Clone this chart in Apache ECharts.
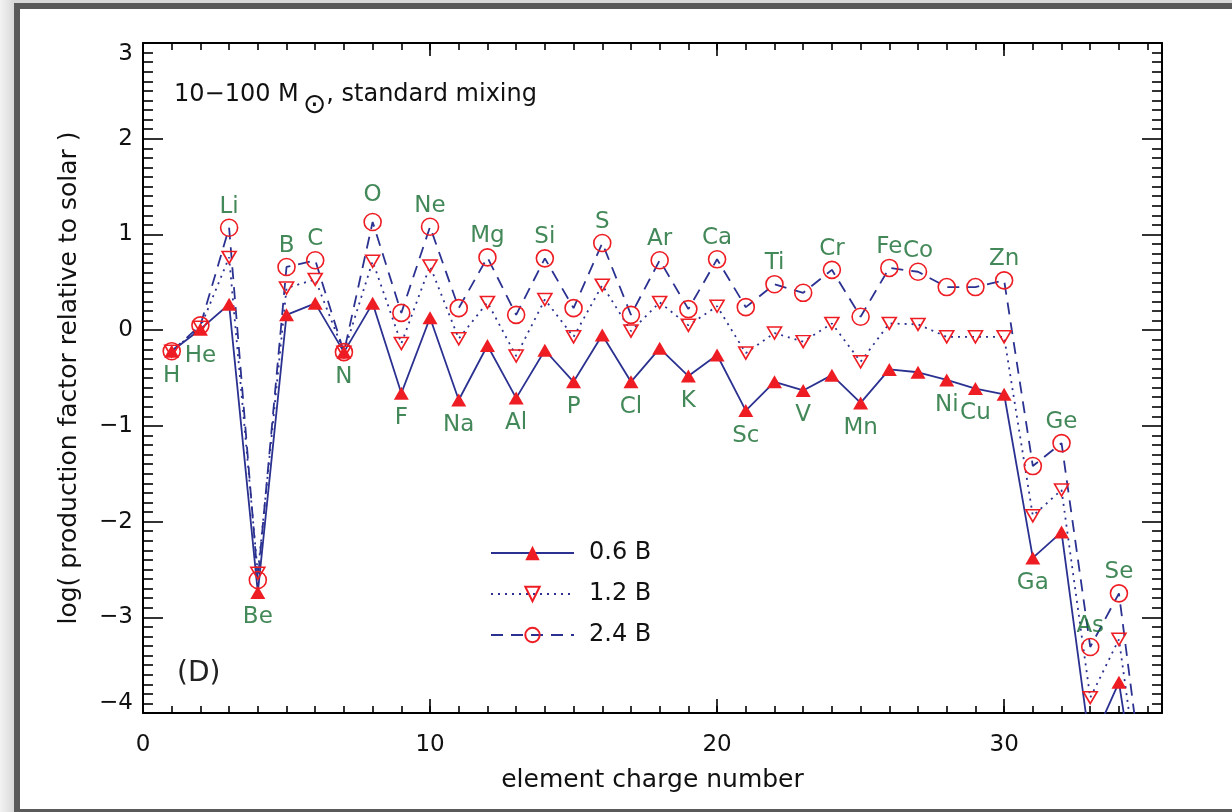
<!DOCTYPE html>
<html><head><meta charset="utf-8">
<script src="https://cdn.jsdelivr.net/npm/echarts@6/dist/echarts.min.js"></script>
<style>
html,body{margin:0;padding:0;width:1232px;height:812px;overflow:hidden;background:linear-gradient(90deg,#f3f3f3 0px,#d9d9d9 14px,#d9d9d9 100%);}
#frame{position:absolute;left:14px;top:3px;width:1400px;height:800px;border:6px solid #5a5a5a;background:#fff;}
#chart{position:absolute;left:0;top:0;width:1232px;height:812px;}
</style></head><body><div id="frame"></div><div id="chart"></div>
<script>
const elements = ['H','He','Li','Be','B','C','N','O','F','Ne','Na','Mg','Al','Si','P','S','Cl','Ar','K','Ca','Sc','Ti','V','Cr','Mn','Fe','Co','Ni','Cu','Zn','Ga','Ge','As','Se','Br'];
const chargeNumbers = [1,2,3,4,5,6,7,8,9,10,11,12,13,14,15,16,17,18,19,20,21,22,23,24,25,26,27,28,29,30,31,32,33,34,35];
const prod06 = [-0.22,0.01,0.27,-2.74,0.16,0.28,-0.23,0.28,-0.66,0.13,-0.73,-0.16,-0.71,-0.21,-0.54,-0.05,-0.54,-0.19,-0.48,-0.26,-0.84,-0.54,-0.63,-0.47,-0.76,-0.41,-0.44,-0.52,-0.61,-0.67,-2.38,-2.11,-4.35,-3.68,-5.6];
const prod12 = [-0.22,0.03,0.76,-2.54,0.44,0.53,-0.23,0.72,-0.14,0.67,-0.09,0.29,-0.27,0.32,-0.07,0.47,-0.01,0.29,0.05,0.25,-0.24,-0.03,-0.12,0.07,-0.33,0.07,0.06,-0.07,-0.07,-0.07,-1.94,-1.67,-3.84,-3.23,-5.4];
const prod24 = [-0.22,0.05,1.07,-2.61,0.66,0.73,-0.23,1.13,0.18,1.08,0.23,0.76,0.16,0.75,0.23,0.91,0.16,0.73,0.22,0.74,0.24,0.48,0.39,0.63,0.14,0.65,0.61,0.45,0.45,0.52,-1.42,-1.18,-3.31,-2.75,-5.1];
const seriesNames = ['0.6 B','1.2 B','2.4 B'];
const labelsAbove = ['Li','B','C','O','Ne','Mg','Si','S','Ar','Ca','Ti','Cr','Fe','Co','Zn','Ge','As','Se'];
const labelsBelow = ['H','He','Be','N','F','Na','Al','P','Cl','K','Sc','V','Mn','Ni','Cu','Ga'];
const xTitle = 'element charge number';
const yTitle = 'log( production factor relative to solar )';
const noteText = ['10−100 M', '⊙', ', standard mixing'];
const panelText = '(D)';

const FONT = 'DejaVu Sans';
const NAVY = '#2b3190';
const RED = '#ee1d23';
const GREEN = '#146a2e';
const BLACK = '#000';
const TXT = '#111';

const chart = echarts.init(document.getElementById('chart'), null, {renderer:'canvas'});

const pts = arr => chargeNumbers.map((z,i)=>[z, arr[i]]);
const fmtY = v => {
  const s = v < 0 ? '−' + Math.abs(v) : String(v);
  if (v === 3) return '{top|' + s + '}';
  if (v === -4) return '{bot|' + s + '}';
  return '{n|' + s + '}';
};
const yLabelRich = {
  n:{fontSize:23,fontFamily:FONT,color:TXT},
  top:{fontSize:23,fontFamily:FONT,color:TXT,padding:[22,0,0,0]},
  bot:{fontSize:23,fontFamily:FONT,color:TXT,padding:[0,0,20,0]}
};

const axisLineOn = {show:true,onZero:false,lineStyle:{color:BLACK,width:2}};
const axisLineOff = {show:false,onZero:false};
const tickLine = {color:BLACK,width:1.6};

function yAx(pos, labels){
  return {
    type:'value', position:pos, min:-4, max:3, interval:1,
    axisLine:axisLineOn,
    axisTick:{show:true,inside:true,length:20,lineStyle:tickLine},
    minorTick:{show:true,splitNumber:10,length:10,lineStyle:tickLine},
    splitLine:{show:false}, minorSplitLine:{show:false},
    axisLabel:{show:labels,margin:10,formatter:fmtY,rich:yLabelRich},
    name: labels ? yTitle : '', nameLocation:'middle', nameGap:61,
    nameTextStyle:{fontSize:25,fontFamily:FONT,color:TXT}
  };
}
function xAx(pos, interval, len, line, labels){
  return {
    type:'value', position:pos, min:0, max:35.5, interval:interval,
    axisLine: line ? axisLineOn : axisLineOff,
    axisTick:{show:true,inside:true,length:len,lineStyle:tickLine},
    splitLine:{show:false},
    axisLabel:{show:labels,margin:21,fontSize:23,fontFamily:FONT,color:TXT,
      formatter: v => (v % 10 === 0 ? String(v) : '')},
    name: labels ? xTitle : '', nameLocation:'middle', nameGap:55,
    nameTextStyle:{fontSize:25,fontFamily:FONT,color:TXT}
  };
}

const lineBase = {type:'line', xAxisIndex:0, yAxisIndex:0, clip:true, animation:false, z:3};

const labelData = [];
elements.forEach((el,i)=>{
  if (labelsAbove.includes(el)) {
    labelData.push({name:el, value:[chargeNumbers[i], prod24[i]],
      label:{offset:[0, el==='O' ? -27 : -21]}});
  } else if (labelsBelow.includes(el)) {
    labelData.push({name:el, value:[chargeNumbers[i], prod06[i]],
      label:{offset:[0, el==='He' ? 27 : 25]}});
  }
});

const option = {
  backgroundColor:'transparent',
  animation:false,
  textStyle:{fontFamily:FONT},
  grid:{left:143,top:43,right:70,bottom:99,containLabel:false},
  xAxis:[
    xAx('bottom',1,7,true,true),
    xAx('bottom',10,14,false,false),
    xAx('top',1,7,true,false),
    xAx('top',10,13,false,false)
  ],
  yAxis:[yAx('left',true), yAx('right',false)],
  legend:{
    orient:'vertical', left:490, top:541, padding:0, itemWidth:83, itemHeight:18, itemGap:17,
    textStyle:{fontSize:24,fontFamily:FONT,color:TXT,padding:[0,0,0,10]},
    data:seriesNames
  },
  graphic:[
    {type:'text', left:174, top:83, silent:true,
     style:{text:'{a|'+noteText[0]+'}{s|'+noteText[1]+'}{a|'+noteText[2]+'}',
       rich:{
         a:{fontSize:24,fontFamily:FONT,fill:TXT,lineHeight:28,verticalAlign:'top'},
         s:{fontSize:28,fontFamily:FONT,fill:TXT,lineHeight:28,verticalAlign:'top',padding:[9,0,0,4]}
       }}},
    {type:'text', left:177, top:660, silent:true,
     style:{text:panelText, fontSize:28, fontFamily:FONT, fill:'#222'}}
  ],
  series:[
    Object.assign({}, lineBase, {
      name:seriesNames[0], data:pts(prod06),
      symbol:'triangle', symbolSize:[15,13],
      lineStyle:{color:NAVY,width:1.8,type:'solid'},
      itemStyle:{color:RED,borderWidth:0}
    }),
    Object.assign({}, lineBase, {
      name:seriesNames[1], data:pts(prod12),
      symbol:'triangle', symbolRotate:180, symbolSize:[14,12],
      lineStyle:{color:NAVY,width:1.8,type:[2,5]},
      itemStyle:{color:'rgba(255,255,255,0)',borderColor:RED,borderWidth:1.6}
    }),
    Object.assign({}, lineBase, {
      name:seriesNames[2], data:pts(prod24),
      symbol:'circle', symbolSize:17,
      lineStyle:{color:NAVY,width:1.8,type:[12,8]},
      itemStyle:{color:'rgba(255,255,255,0)',borderColor:RED,borderWidth:1.6}
    }),
    {
      type:'scatter', name:'labels', xAxisIndex:0, yAxisIndex:0,
      symbolSize:0, silent:true, z:5, clip:false,
      data:labelData,
      label:{show:true, position:'inside', formatter:'{b}',
        fontSize:23, fontFamily:FONT, color:GREEN}
    }
  ]
};
chart.setOption(option);
</script></body></html>
